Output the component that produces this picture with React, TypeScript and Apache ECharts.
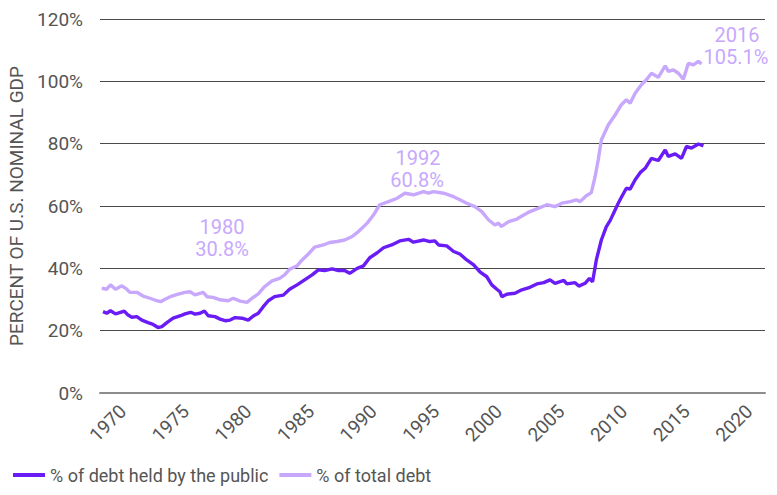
import React, { useEffect, useRef } from "react";
import * as echarts from "echarts";

const publicYears = [
  1968.4, 1968.7, 1969.0, 1969.4, 1969.6, 1970.1, 1970.4, 1970.7, 1971.1, 1971.5,
  1972.0, 1972.4, 1972.8, 1973.1, 1973.5, 1974.0, 1974.6, 1974.95, 1975.4, 1975.75,
  1976.15, 1976.5, 1976.8, 1977.35, 1977.75, 1978.15, 1978.55, 1978.95, 1979.5, 1980.0,
  1980.4, 1980.8, 1981.2, 1981.6, 1982.1, 1982.8, 1983.3, 1983.9, 1984.5, 1985.1,
  1985.6, 1986.1, 1986.7, 1987.2, 1987.7, 1988.1, 1988.7, 1989.2, 1989.7, 1990.3,
  1990.8, 1991.45, 1992.1, 1992.8, 1993.2, 1994.0, 1994.5, 1994.9, 1995.2, 1995.85,
  1996.4, 1996.9, 1997.45, 1998.0, 1998.5, 1999.05, 1999.45, 1999.85, 2000.1, 2000.25,
  2000.65, 2001.3, 2001.85, 2002.5, 2003.05, 2003.6, 2004.1, 2004.5, 2005.2, 2005.45,
  2006.1, 2006.4, 2006.9, 2007.25, 2007.5, 2007.8, 2008.2, 2008.6, 2008.9, 2009.55,
  2009.8, 2010.2, 2010.5, 2010.9, 2011.3, 2011.7, 2012.2, 2012.75, 2013.3, 2013.55,
  2014.1, 2014.6, 2015.0, 2015.4, 2015.95, 2016.35,
];
const publicValues = [
  26.1, 25.6, 26.4, 25.4, 25.6, 26.3, 25.0, 24.3, 24.5, 23.4,
  22.6, 22.0, 21.0, 21.3, 22.6, 24.0, 24.8, 25.4, 25.9, 25.3,
  25.6, 26.3, 24.8, 24.5, 23.7, 23.2, 23.4, 24.2, 24.0, 23.4,
  24.7, 25.6, 27.7, 29.6, 30.9, 31.4, 33.3, 34.7, 36.3, 37.9,
  39.5, 39.3, 39.8, 39.3, 39.3, 38.4, 40.0, 40.8, 43.4, 45.0,
  46.6, 47.5, 48.8, 49.3, 48.4, 49.1, 48.6, 48.8, 47.5, 47.2,
  45.4, 44.6, 42.7, 41.1, 38.9, 37.3, 34.7, 33.3, 32.5, 30.9,
  31.7, 32.0, 33.1, 33.9, 35.0, 35.4, 36.3, 35.2, 36.1, 35.0,
  35.4, 34.3, 35.2, 36.8, 35.7, 42.7, 49.1, 53.4, 55.3, 60.9,
  62.8, 65.7, 65.4, 68.4, 70.7, 72.1, 75.3, 74.6, 78.0, 75.9,
  76.7, 75.3, 79.1, 78.6, 79.9, 79.3,
];

const totalYears = [
  1968.3, 1968.7, 1969.0, 1969.4, 1969.9, 1970.3, 1970.55, 1971.1, 1971.6, 1972.15,
  1972.7, 1973.0, 1973.35, 1973.9, 1974.4, 1974.95, 1975.35, 1975.75, 1976.4, 1976.7,
  1977.2, 1977.75, 1978.4, 1978.8, 1979.35, 1979.9, 1980.3, 1980.8, 1981.3, 1981.9,
  1982.5, 1982.9, 1983.3, 1983.9, 1984.3, 1984.8, 1985.3, 1986.0, 1986.5, 1987.1,
  1987.7, 1988.3, 1988.8, 1989.5, 1990.0, 1990.5, 1991.2, 1991.9, 1992.5, 1993.2,
  1994.0, 1994.4, 1994.8, 1995.6, 1996.4, 1996.9, 1997.45, 1998.1, 1998.65, 1999.2,
  1999.7, 2000.0, 2000.2, 2000.8, 2001.45, 2002.0, 2002.5, 2003.2, 2003.85, 2004.5,
  2005.05, 2005.7, 2006.2, 2006.5, 2007.0, 2007.4, 2007.7, 2007.95, 2008.2, 2008.75,
  2009.3, 2009.8, 2010.2, 2010.5, 2010.9, 2011.4, 2011.8, 2012.2, 2012.75, 2013.3,
  2013.55, 2013.95, 2014.35, 2014.75, 2015.15, 2015.55, 2015.95, 2016.2,
];
const totalValues = [
  33.6, 33.3, 34.7, 33.3, 34.4, 33.3, 32.3, 32.3, 31.1, 30.4,
  29.6, 29.3, 30.1, 31.1, 31.7, 32.3, 32.5, 31.5, 32.3, 30.9,
  30.7, 29.9, 29.6, 30.4, 29.5, 29.1, 30.4, 31.8, 34.1, 36.0,
  36.8, 37.9, 39.7, 40.8, 42.7, 44.6, 46.8, 47.5, 48.3, 48.6,
  49.1, 50.2, 51.8, 54.5, 57.1, 60.4, 61.4, 62.5, 64.1, 63.6,
  64.6, 64.1, 64.6, 64.1, 63.0, 62.0, 60.9, 59.8, 58.2, 55.5,
  53.9, 54.5, 53.4, 55.0, 55.8, 57.1, 58.2, 59.3, 60.4, 59.8,
  60.9, 61.4, 62.0, 61.4, 63.3, 64.3, 69.4, 74.8, 81.2, 86.0,
  89.2, 92.5, 94.1, 93.0, 96.2, 98.9, 100.5, 102.6, 101.3, 105.0,
  103.2, 103.7, 102.6, 100.7, 105.8, 105.3, 106.4, 105.6,
];

const xTickYears = [1970, 1975, 1980, 1985, 1990, 1995, 2000, 2005, 2010, 2015, 2020];
const seriesNames = ["% of debt held by the public", "% of total debt"];
const annotationLines = [
  { text: "1980", x: 222, y: 227 },
  { text: "30.8%", x: 222, y: 249 },
  { text: "1992", x: 418, y: 158 },
  { text: "60.8%", x: 417, y: 180 },
  { text: "2016", x: 737, y: 35 },
  { text: "105.1%", x: 736, y: 57 },
];

const DARK = "#6a1cf6";
const LIGHT = "#c8a8fc";
const GRAY = "#555555";
const FONT = "'Liberation Sans Narrow', 'Arial Narrow', Roboto, sans-serif";

export default function App() {
  const ref = useRef<HTMLDivElement>(null);
  useEffect(() => {
    if (!ref.current) return;
    const chart = echarts.init(ref.current, undefined, { renderer: "svg" });
    chart.setOption({
      animation: false,
      textStyle: { fontFamily: FONT },
      grid: { left: 100, right: 12, top: 19, bottom: 102, outerBoundsMode: "none" },
      legend: {
        left: 13,
        top: 464,
        padding: 0,
        icon: "rect",
        itemWidth: 32,
        itemHeight: 4,
        itemGap: 11,
        textStyle: { fontFamily: FONT, fontSize: 18, color: GRAY, lineHeight: 22 },
        data: seriesNames,
      },
      xAxis: {
        type: "value",
        min: 1968.16,
        max: 2021.27,
        axisLine: { show: true, onZero: false, lineStyle: { color: "#8c8c8c", width: 2 } },
        axisTick: { show: false },
        splitLine: { show: false },
        axisLabel: {
          customValues: xTickYears,
          rotate: 45,
          margin: 15,
          fontSize: 19,
          color: GRAY,
          fontFamily: FONT,
          formatter: (v: number) => String(Math.round(v)),
        },
      },
      yAxis: {
        type: "value",
        min: 0,
        max: 120,
        interval: 20,
        name: "PERCENT OF U.S. NOMINAL GDP",
        nameLocation: "middle",
        nameGap: 61,
        nameTextStyle: { fontFamily: FONT, fontSize: 19, color: GRAY },
        axisLine: { show: false },
        axisTick: { show: false },
        axisLabel: {
          margin: 17,
          fontSize: 19,
          color: GRAY,
          fontFamily: FONT,
          formatter: (v: number) => v + "%",
        },
        splitLine: { lineStyle: { color: "#4a4a4a", width: 1 } },
      },
      graphic: annotationLines.map((a) => ({
        type: "text",
        x: a.x,
        y: a.y,
        style: {
          text: a.text,
          align: "center",
          verticalAlign: "middle",
          fill: LIGHT,
          fontSize: 20,
          fontFamily: FONT,
        },
      })),
      series: [
        {
          name: seriesNames[1],
          type: "line",
          showSymbol: false,
          symbol: "none",
          color: LIGHT,
          lineStyle: { width: 3.4, color: LIGHT },
          data: totalYears.map((y, i) => [y, totalValues[i]]),
          z: 2,
        },
        {
          name: seriesNames[0],
          type: "line",
          showSymbol: false,
          symbol: "none",
          color: DARK,
          lineStyle: { width: 3.4, color: DARK },
          data: publicYears.map((y, i) => [y, publicValues[i]]),
          z: 3,
        },
      ],
    });
    return () => chart.dispose();
  }, []);
  return <div ref={ref} style={{ width: 777, height: 495, margin: -8 }} />;
}
